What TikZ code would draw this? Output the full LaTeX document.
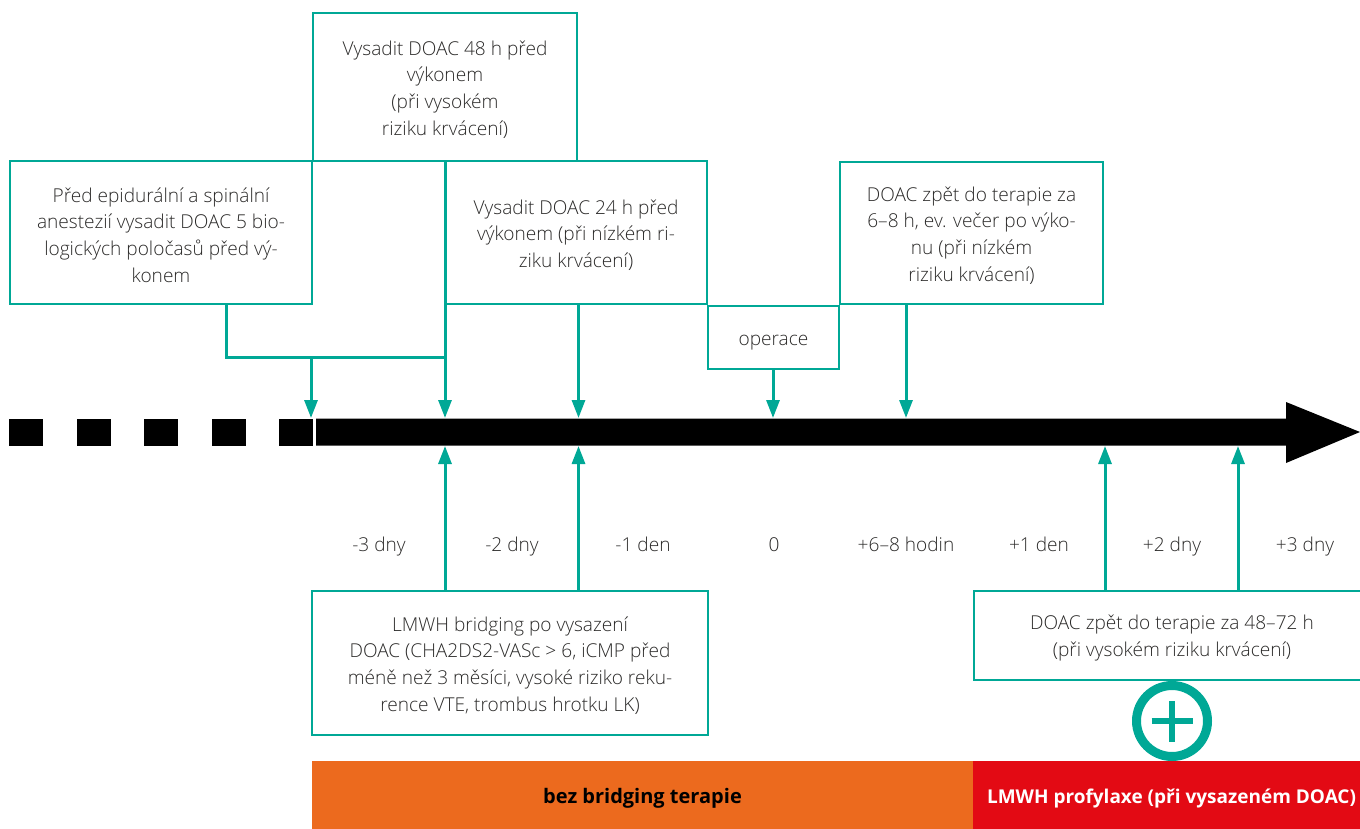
\documentclass[tikz,border=0pt]{standalone}
\usepackage{fontspec}
\setmainfont{Open Sans Light}[BoldFont={Open Sans Bold}]
\usetikzlibrary{arrows.meta}
\definecolor{teal-line}{HTML}{00A896}
\definecolor{text-grey}{HTML}{2B2A29}
\definecolor{orange-bar}{HTML}{EC6A1E}
\definecolor{red-bar}{HTML}{E30A14}
\newcommand{\uppergap}{\mbox{}\\[-7pt]}

\begin{document}
\begin{tikzpicture}
        [x=1pt,y=-1pt,
        text-box/.style={rectangle,draw=teal-line,line width=1.2pt,inner sep=0pt,align=center,text=text-grey,font=\fontsize{19.1}{26.7}\selectfont},
        day-label/.style={inner sep=0pt,text=text-grey,font=\fontsize{19.1}{22}\selectfont,text height=14pt,text depth=2pt},
        bar-box/.style={rectangle,inner sep=0pt,text=white,font=\fontsize{19}{22}\selectfont\bfseries,text height=17pt,text depth=1pt},
        dash-box/.style={rectangle,fill=black,inner sep=0pt,minimum width=34pt,minimum height=27pt},
        link/.style={draw=teal-line,line width=3pt},
        link-arrow/.style={link,-{Triangle[length=18pt,width=13pt]}}
        ]
        \useasboundingbox (0, 0) rectangle (1360, 829);
        % boxes above the time line
        \node[text-box,minimum width=264pt,minimum height=148pt] (box-48h) at (445, 87) {\uppergap Vysadit DOAC 48 h před\\výkonem\\(při vysokém\\riziku krvácení)};
        \node[text-box,minimum width=302pt,minimum height=143pt] (box-spinal) at (161, 232.5) {\uppergap Před epidurální a spinální\\anestezií vysadit DOAC 5 bio-\\logických poločasů před vý-\\konem};
        \node[text-box,minimum width=262pt,minimum height=143pt] (box-24h) at (576, 232.5) {\uppergap Vysadit DOAC 24 h před\\výkonem (při nízkém ri-\\ziku krvácení)};
        \node[text-box,minimum width=131pt,minimum height=63pt,execute at begin node={\rule{0pt}{21pt}}] (box-surgery) at (773.5, 337.5) {operace};
        \node[text-box,minimum width=263pt,minimum height=142pt] (box-back-low) at (971.5, 233) {\uppergap DOAC zpět do terapie za\\6--8 h, ev. večer po výko-\\nu (při nízkém\\riziku krvácení)};
        % boxes below the time line
        \node[text-box,minimum width=396pt,minimum height=144pt] (box-lmwh) at (510, 663) {\uppergap LMWH bridging po vysazení\\DOAC (CHA2DS2-VASc > 6, iCMP před\\méně než 3 měsíci, vysoké riziko reku-\\rence VTE, trombus hrotku LK)};
        \node[text-box,minimum width=396pt,minimum height=89pt] (box-back-high) at (1172, 635.5) {\uppergap DOAC zpět do terapie za 48--72 h\\(při vysokém riziku krvácení)};
        % time line
        \foreach \i/\xpos in {1/26, 2/93.5, 3/161, 4/228.5, 5/296}
            \node[dash-box] (dash-\i) at (\xpos, 432) {};
        \fill[black] (316, 418.5) -- (1286, 418.5) -- (1286, 402) -- (1360, 432) -- (1286, 463) -- (1286, 445.5) -- (316, 445.5) -- cycle;
        \coordinate (top-1) at (311, 418);
        \coordinate (top-2) at (445, 418);
        \coordinate (top-3) at (578.5, 418);
        \coordinate (top-4) at (773, 418);
        \coordinate (top-5) at (906, 418);
        \coordinate (bottom-2) at (445, 446);
        \coordinate (bottom-3) at (578.5, 446);
        \coordinate (bottom-6) at (1105, 446);
        \coordinate (bottom-7) at (1238, 446);
        \coordinate (join-left) at (226, 304);
        \coordinate (join-mid) at (226, 357);
        % connectors
        \draw[link] (join-left) -- (join-mid) -- (join-mid -| top-2);
        \draw[link-arrow] (join-mid -| top-1) -- (top-1);
        \draw[link-arrow] (box-48h.south) -- (top-2);
        \draw[link-arrow] (box-24h.south -| top-3) -- (top-3);
        \draw[link-arrow] (box-surgery.south -| top-4) -- (top-4);
        \draw[link-arrow] (box-back-low.south -| top-5) -- (top-5);
        \draw[link-arrow] (box-lmwh.north -| bottom-2) -- (bottom-2);
        \draw[link-arrow] (box-lmwh.north -| bottom-3) -- (bottom-3);
        \draw[link-arrow] (box-back-high.north -| bottom-6) -- (bottom-6);
        \draw[link-arrow] (box-back-high.north -| bottom-7) -- (bottom-7);
        % days
        \node[day-label] (day-1) at (379, 545) {-3 dny};
        \node[day-label] (day-2) at (512, 545) {-2 dny};
        \node[day-label] (day-3) at (643, 545) {-1 den};
        \node[day-label] (day-4) at (774, 545) {0};
        \node[day-label] (day-5) at (906, 545) {+6--8 hodin};
        \node[day-label] (day-6) at (1039, 545) {+1 den};
        \node[day-label] (day-7) at (1172, 545) {+2 dny};
        \node[day-label] (day-8) at (1305, 545) {+3 dny};
        % bottom bars
        \node[bar-box,fill=orange-bar,text=black,font=\fontsize{20}{22}\selectfont\bfseries,minimum width=661pt,minimum height=68pt] (bar-none) at (642.5, 795) {bez bridging terapie};
        \node[bar-box,fill=red-bar,minimum width=397pt,minimum height=68pt] (bar-lmwh) at (1171.5, 795) {LMWH profylaxe (při vysazeném DOAC)};
        \node[circle,draw=teal-line,line width=9pt,minimum size=71pt,inner sep=0pt] (plus-sign) at (1172, 721) {};
        \draw[teal-line,line width=5.5pt] ([xshift=-20.5pt]plus-sign.center) -- ([xshift=20.5pt]plus-sign.center);
        \draw[teal-line,line width=5.5pt] ([yshift=-20.5pt]plus-sign.center) -- ([yshift=20.5pt]plus-sign.center);
    \end{tikzpicture}
\end{document}
